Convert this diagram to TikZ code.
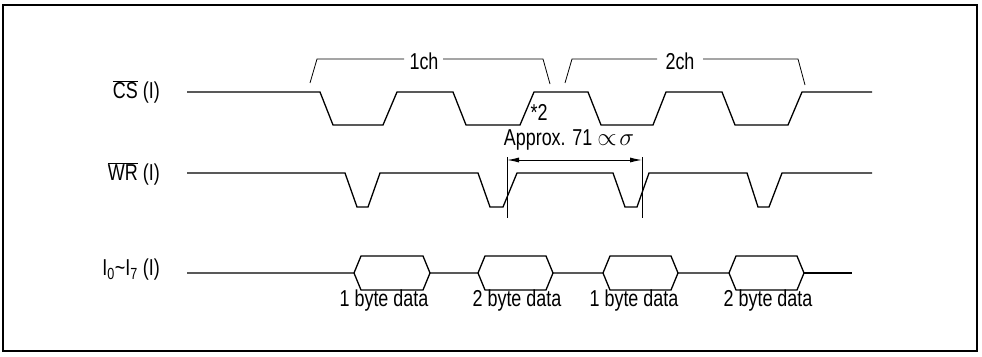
\documentclass[tikz,border=0pt]{standalone}
\usepackage{fontspec}
\setmainfont{Liberation Sans}[FakeStretch=0.78]
\usetikzlibrary{arrows.meta}
\begin{document}
\begin{tikzpicture}[x=1pt,y=-1pt,
  wave/.style={line width=1.3pt,line join=miter},
  brk/.style={line width=0.8pt},
  lbl/.style={inner sep=0pt,font=\fontsize{23}{27}\selectfont},
  sig/.style={lbl,anchor=east},
  dim/.style={line width=1pt,{Latex[length=12pt,width=5pt]}-{Latex[length=12pt,width=5pt]}},
  ext/.style={line width=0.8pt}]
\useasboundingbox (0,0) rectangle (982,356);
\draw[line width=1.2pt] (3,5) rectangle (977,351);
% signal labels
\node[sig] (cs) at (160,92) {$\overline{\mbox{CS}}$ (I)};
\node[sig] (wr) at (160,174) {$\overline{\mbox{WR}}$ (I)};
\node[sig] (io) at (160,270) {I\textsubscript{0}\textasciitilde I\textsubscript{7} (I)};
% CS waveform
\draw[wave] (187,92) -- (320,92) -- (333,125) -- (383,125) -- (397,92) -- (453,92) -- (466,125) -- (520,125) -- (534,92) -- (588,92) -- (601,125) -- (653,125) -- (666,92) -- (722,92) -- (735,125) -- (788,125) -- (802,92) -- (872,92);
% WR waveform
\draw[wave] (187,173) -- (345,173) -- (357,207) -- (368,207) -- (380,173) -- (478,173) -- (490,207) -- (503,207) -- (517,173) -- (613,173) -- (625,207) -- (637,207) -- (649,173) -- (747,173) -- (758,207) -- (769,207) -- (782,173) -- (872,173);
% data bus
\draw[wave] (187,273) -- (354,273) -- (361,256) -- (423,256) -- (430,273) -- (423,290) -- (361,290) -- (354,273);
\draw[wave] (430,273) -- (478,273) -- (485,256) -- (546,256) -- (553,273) -- (546,290) -- (485,290) -- (478,273);
\draw[wave] (553,273) -- (603,273) -- (610,256) -- (671,256) -- (678,273) -- (671,290) -- (610,290) -- (603,273);
\draw[wave] (678,273) -- (729,273) -- (736,256) -- (797,256) -- (804,273) -- (797,290) -- (736,290) -- (729,273);
\draw[wave] (804,273) -- (852,273);
\node[lbl] (d1) at (384,301) {1 byte data};
\node[lbl] (d2) at (517,301) {2 byte data};
\node[lbl] (d3) at (634,301) {1 byte data};
\node[lbl] (d4) at (768,301) {2 byte data};
% brackets
\node[lbl] (ch1) at (424,61) {1ch};
\node[lbl] (ch2) at (680,61) {2ch};
\draw[brk] (310,83) -- (317,59) -- (404,59);
\draw[brk] (443,59) -- (543,59) -- (550,84);
\draw[brk] (565,83) -- (572,59) -- (657,59);
\draw[brk] (703,59) -- (798,59) -- (805,85);
% note
\node[lbl] (n2) at (539,112) {*2};
% dimension
\coordinate (dl) at (507,160);
\coordinate (dr) at (642,160);
\draw[ext] (507,157) -- (507,218);
\draw[ext] (642,157) -- (642,218);
\draw[dim] (dl) -- (dr);
\node[lbl] (ap) at (569,140) {Approx. 71 $\propto\!\sigma$};
\end{tikzpicture}
\end{document}
